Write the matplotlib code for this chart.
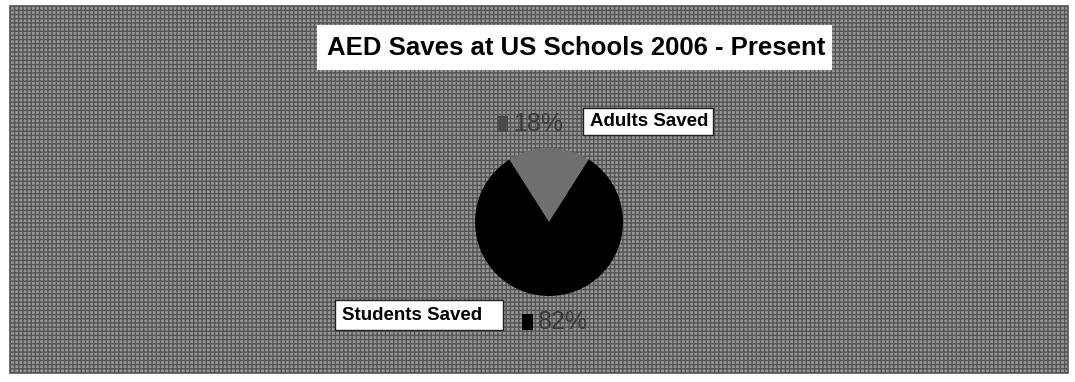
import matplotlib.pyplot as plt
from matplotlib.patches import Rectangle

# --- data ---
categories = ['Adults Saved', 'Students Saved']
shares = [18, 82]
colors = ['#6f6f6f', '#000000']

W, H = 1075, 382
plt.rcParams['font.family'] = ['Liberation Sans', 'DejaVu Sans']
plt.rcParams['hatch.color'] = '#b4b4b4'

fig = plt.figure(figsize=(W / 100, H / 100), dpi=100)
fig.patch.set_facecolor('white')
ax = fig.add_axes([0, 0, 1, 1])

# textured gray chart area
ax.add_patch(Rectangle((10, H - 373), 1058, 367, facecolor='#979797',
                       edgecolor='#555555', linewidth=1.2, hatch='++++',
                       zorder=0))

# title box
ax.add_patch(Rectangle((317, H - 70), 515, 45, facecolor='white',
                       edgecolor='none', zorder=2))
ax.text(576, H - 48, 'AED Saves at US Schools 2006 - Present', ha='center',
        va='center', fontsize=18.5, fontweight='bold', zorder=3)

# pie, gray slice centred at the top
start = 90 - shares[0] / 100 * 360 / 2
ax.pie(shares, colors=colors, startangle=start, counterclock=True,
       center=(549, H - 222), radius=74, frame=True,
       wedgeprops=dict(linewidth=0))
ax.set_xlim(0, W)
ax.set_ylim(0, H)
ax.set_aspect('equal')
ax.axis('off')


def label_box(x0, x1, y0, y1, text):
    ax.add_patch(Rectangle((x0, H - y1), x1 - x0, y1 - y0, facecolor='white',
                           edgecolor='#222222', linewidth=1, zorder=4))
    ax.text(x0 + 7, H - (y0 + y1) / 2, text, ha='left', va='center',
            fontsize=13.5, fontweight='bold', zorder=5)


def pct(x, y, value, color):
    ax.add_patch(Rectangle((x, H - y - 8), 11, 16, facecolor=color,
                           edgecolor='none', zorder=4))
    ax.text(x + 16, H - y, f'{value}%', ha='left', va='center', fontsize=18,
            color='#3a3a3a', zorder=4)


pct(497, 124, shares[0], '#4a4a4a')
label_box(583, 713, 108, 135, categories[0])
label_box(335, 503, 300, 330, categories[1])
pct(522, 322, shares[1], colors[1])

fig.savefig('out.png', dpi=100)
